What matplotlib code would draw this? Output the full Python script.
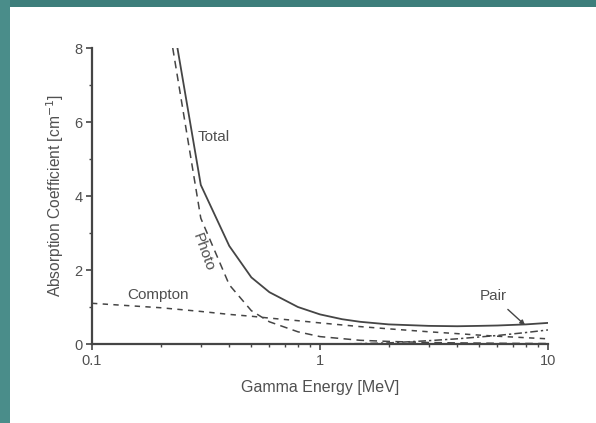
import matplotlib
matplotlib.use("Agg")
import matplotlib.pyplot as plt
from matplotlib.patches import Rectangle
from matplotlib.ticker import FixedLocator, FixedFormatter, LogLocator, NullFormatter

# ---- data ----
total_e = [0.237, 0.3, 0.4, 0.5, 0.6, 0.8, 1.0, 1.25, 1.5, 2.0, 3.0, 4.0, 5.0, 6.0, 8.0, 10.0]
total_v = [8.0, 4.3, 2.65, 1.8, 1.4, 1.0, 0.8, 0.67, 0.6, 0.53, 0.49, 0.48, 0.49, 0.5, 0.53, 0.57]

photo_e = [0.226, 0.3, 0.4, 0.5, 0.6, 0.8, 1.0, 1.5, 2.0, 3.0, 4.0, 5.0, 6.0, 8.0, 10.0]
photo_v = [8.0, 3.4, 1.6, 0.9, 0.6, 0.33, 0.2, 0.1, 0.07, 0.04, 0.03, 0.025, 0.02, 0.015, 0.012]

compton_e = [0.1, 0.2, 0.3, 0.4, 0.5, 0.6, 0.8, 1.0, 1.5, 2.0, 3.0, 4.0, 5.0, 6.0, 8.0, 10.0]
compton_v = [1.1, 0.98, 0.88, 0.8, 0.75, 0.7, 0.63, 0.57, 0.47, 0.41, 0.33, 0.28, 0.24, 0.21, 0.17, 0.14]

pair_e = [1.022, 1.5, 2.0, 3.0, 4.0, 5.0, 6.0, 8.0, 10.0]
pair_v = [0.0, 0.01, 0.03, 0.09, 0.14, 0.19, 0.23, 0.31, 0.38]

x_ticks = [0.1, 1, 10]
x_tick_labels = ["0.1", "1", "10"]
y_ticks = [0, 2, 4, 6, 8]
y_tick_labels = ["0", "2", "4", "6", "8"]

# ---- figure ----
W, H = 596, 423
fig = plt.figure(figsize=(W / 100, H / 100), dpi=100)
fig.patch.set_facecolor("#3d7e7b")
fig.patches.append(Rectangle((0, 0), 10 / W, 1, transform=fig.transFigure,
                             facecolor="#4a8d8a", edgecolor="none", zorder=-10))
fig.patches.append(Rectangle((10 / W, 0), 1, (H - 7) / H, transform=fig.transFigure,
                             facecolor="white", edgecolor="none", zorder=-10))

ax = fig.add_axes([92 / W, 79 / H, (548 - 92) / W, (344 - 48) / H])
ax.set_facecolor("none")
ax.set_zorder(5)

lc = "#454545"
tc = "#505050"
font = ["Liberation Sans", "DejaVu Sans"]

ax.plot(total_e, total_v, color=lc, lw=1.3, ls="-", solid_joinstyle="miter")
ax.plot(photo_e, photo_v, color=lc, lw=1.1, ls=(0, (5, 3.5)))
ax.plot(compton_e, compton_v, color=lc, lw=1.1, ls=(0, (3.5, 3.5)))
ax.plot(pair_e, pair_v, color=lc, lw=1.1, ls=(0, (5, 2, 1.5, 2)))

ax.set_xscale("log")
ax.set_xlim(0.1, 10)
ax.set_ylim(0, 8)

ax.xaxis.set_major_locator(FixedLocator(x_ticks))
ax.xaxis.set_major_formatter(FixedFormatter(x_tick_labels))
ax.xaxis.set_minor_locator(LogLocator(base=10, subs=range(2, 10)))
ax.xaxis.set_minor_formatter(NullFormatter())
ax.yaxis.set_major_locator(FixedLocator(y_ticks))
ax.yaxis.set_major_formatter(FixedFormatter(y_tick_labels))
ax.yaxis.set_minor_locator(FixedLocator([1, 3, 5, 7]))

for s in ["top", "right"]:
    ax.spines[s].set_visible(False)
for s in ["left", "bottom"]:
    ax.spines[s].set_color(lc)
    ax.spines[s].set_linewidth(1.6)

ax.tick_params(which="major", direction="out", length=4, width=1.2, color=lc,
               labelcolor=tc, labelsize=10.5, pad=3)
ax.tick_params(which="minor", direction="out", length=2.5, width=1.0, color=lc)
for lab in ax.get_xticklabels() + ax.get_yticklabels():
    lab.set_family(font)

ax.set_xlabel("Gamma Energy [MeV]", fontsize=11.5, color=tc, family=font, labelpad=9)
ax.set_ylabel("Absorption Coefficient [cm$^{-1}$]", fontsize=11.2, color=tc,
              family=font, labelpad=6)

ax.text(0.29, 5.6, "Total", fontsize=11, color=tc, family=font, va="center", ha="left")
ax.text(0.307, 2.49, "Photo", fontsize=11, color=tc, family=font, va="center",
        ha="center", rotation=-70)
ax.text(0.1425, 1.32, "Compton", fontsize=11, color=tc, family=font, va="center", ha="left")
ax.annotate("Pair", xy=(7.93, 0.51), xytext=(5.74, 1.3), fontsize=11, color=tc,
            family=font, va="center", ha="center",
            arrowprops=dict(arrowstyle="-|>", color=lc, lw=1.0, shrinkA=4, shrinkB=0,
                            mutation_scale=7))

fig.savefig("out.png", dpi=100, facecolor=fig.get_facecolor())
